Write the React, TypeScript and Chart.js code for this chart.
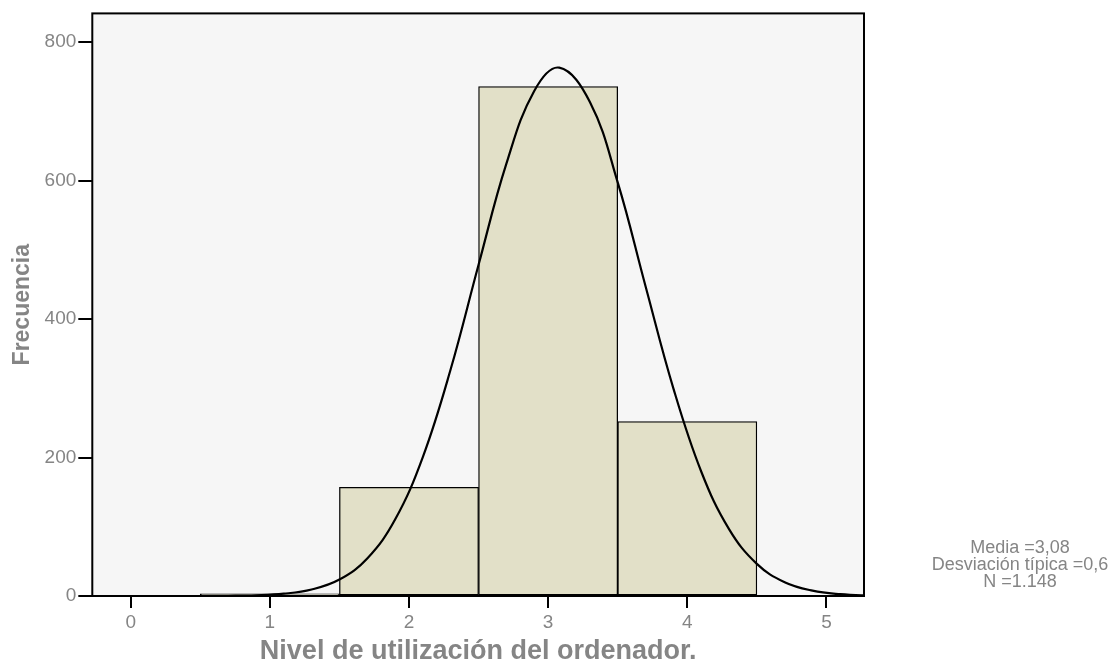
import React, { useEffect, useRef } from "react";
import { Chart, registerables } from "chart.js";

Chart.register(...registerables);

// Histogram bins (bin centres) and frequencies
const binCenters = [1, 2, 3, 4];
const binCounts = [3, 157, 736, 252];

// Fitted normal curve
const curveX = [0.5, 0.7, 0.9, 1.1, 1.3, 1.5, 1.7, 1.9, 2.1, 2.3, 2.5, 2.7, 2.9, 3.08, 3.3, 3.5, 3.7, 3.9, 4.1, 4.3, 4.5, 4.7, 4.9, 5.1, 5.3, 5.5];
const curveY = [0.1, 0.3, 1.0, 3.3, 9.4, 23.8, 54.2, 110.4, 201.1, 327.9, 478.5, 624.6, 729.7, 763.3, 713.7, 597.5, 447.5, 300.0, 179.9, 96.6, 46.4, 19.9, 7.7, 2.6, 0.8, 0.2];

const xTicks = [0, 1, 2, 3, 4, 5];
const yTicks = [0, 200, 400, 600, 800];

const xTitle = "Nivel de utilización del ordenador.";
const yTitle = "Frecuencia";
const statsLines = ["Media =3,08", "Desviación típica =0,6", "N =1.148"];

const FONT = "'Liberation Sans', Arial, Helvetica, sans-serif";
const GRAY = "#858585";

const bgPlugin = {
  id: "plotBg",
  beforeDraw(chart: any) {
    const { ctx, chartArea } = chart;
    ctx.save();
    ctx.fillStyle = "#f6f6f6";
    ctx.fillRect(chartArea.left, chartArea.top, chartArea.right - chartArea.left, chartArea.bottom - chartArea.top);
    ctx.restore();
  },
  afterDatasetsDraw(chart: any) {
    const { ctx, chartArea } = chart;
    ctx.save();
    ctx.strokeStyle = "#000";
    ctx.lineWidth = 2;
    ctx.strokeRect(chartArea.left, chartArea.top, chartArea.right - chartArea.left, chartArea.bottom - chartArea.top);
    ctx.restore();
  },
  afterDraw(chart: any) {
    const { ctx } = chart;
    ctx.save();
    ctx.fillStyle = GRAY;
    ctx.font = `18px ${FONT}`;
    ctx.textAlign = "center";
    ctx.textBaseline = "middle";
    statsLines.forEach((line, i) => {
      ctx.fillText(line, 1020, 548 + i * 17);
    });
    ctx.restore();
  },
};

export default function App() {
  const canvasRef = useRef<HTMLCanvasElement | null>(null);

  useEffect(() => {
    if (!canvasRef.current) return;
    const chart = new Chart(canvasRef.current, {
      type: "bar",
      data: {
        datasets: [
          {
            type: "line",
            data: curveX.map((x, i) => ({ x, y: curveY[i] })),
            borderColor: "#000",
            borderWidth: 2.2,
            pointRadius: 0,
            tension: 0.4,
            fill: false,
            order: 0,
          } as any,
          {
            type: "bar",
            data: binCenters.map((x, i) => ({ x, y: binCounts[i] })),
            backgroundColor: "#e2e0c8",
            borderColor: "#000",
            borderWidth: 1.3,
            borderSkipped: false,
            barPercentage: 1,
            categoryPercentage: 1,
            order: 1,
          } as any,
        ],
      },
      options: {
        animation: false,
        responsive: true,
        maintainAspectRatio: false,
        layout: { padding: { top: 13, right: 254, left: 0, bottom: 0 } },
        plugins: { legend: { display: false }, tooltip: { enabled: false } },
        scales: {
          x: {
            type: "linear",
            min: -0.276,
            max: 5.27,
            offset: false,
            afterBuildTicks: (scale: any) => {
              scale.ticks = xTicks.map((v) => ({ value: v }));
            },
            afterFit: (scale: any) => {
              scale.height = 68;
            },
            ticks: {
              includeBounds: false,
              stepSize: 1,
              padding: 3,
              color: GRAY,
              font: { family: FONT, size: 19 },
              maxRotation: 0,
            },
            grid: {
              offset: false,
              drawOnChartArea: false,
              drawTicks: true,
              tickLength: 12,
              color: "#000",
              lineWidth: 2,
            },
            border: { display: false },
            title: {
              display: true,
              text: xTitle,
              color: GRAY,
              font: { family: FONT, size: 27, weight: "bold" },
              padding: { top: 0, bottom: -4 },
            },
          },
          y: {
            type: "linear",
            min: 0,
            max: 841.7,
            afterBuildTicks: (scale: any) => {
              scale.ticks = yTicks.map((v) => ({ value: v }));
            },
            afterFit: (scale: any) => {
              scale.width = 92.3;
            },
            ticks: {
              includeBounds: false,
              stepSize: 200,
              padding: 2,
              color: GRAY,
              font: { family: FONT, size: 19 },
            },
            grid: {
              drawOnChartArea: false,
              drawTicks: true,
              tickLength: 14,
              color: "#000",
              lineWidth: 2,
            },
            border: { display: false },
            title: {
              display: true,
              text: yTitle,
              color: GRAY,
              font: { family: FONT, size: 23, weight: "bold" },
              padding: { top: 9, bottom: 0 },
            },
          },
        },
      } as any,
      plugins: [bgPlugin],
    });
    return () => chart.destroy();
  }, []);

  return (
    <div style={{ position: "absolute", left: 0, top: 0, width: 1118, height: 664 }}>
      <canvas ref={canvasRef} />
    </div>
  );
}
